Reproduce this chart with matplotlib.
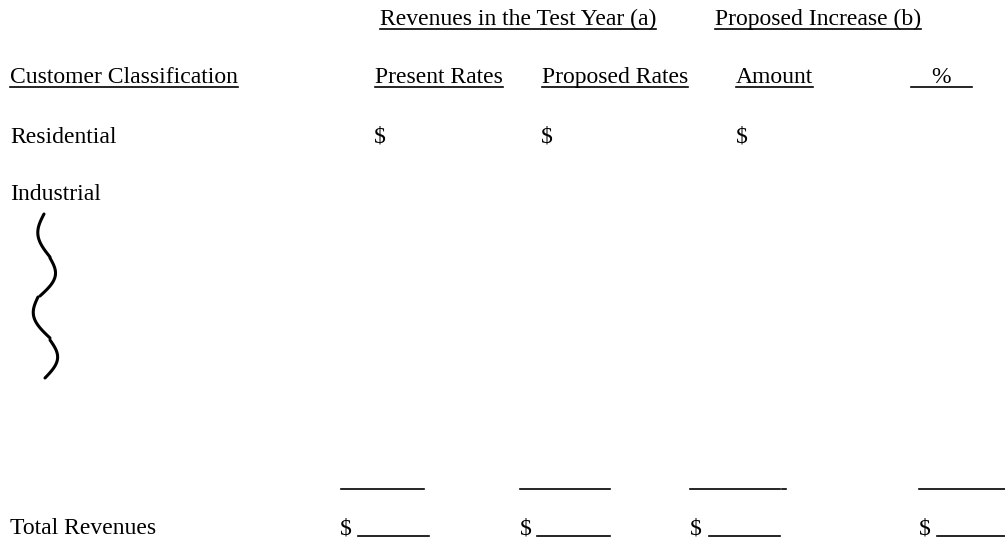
import matplotlib.pyplot as plt
import numpy as np

plt.rcParams['font.family'] = ['Liberation Serif', 'DejaVu Serif']

# form text
group_headers = ["Revenues in the Test Year (a)", "Proposed Increase (b)"]
col_headers = ["Customer Classification", "Present Rates", "Proposed Rates", "Amount"]
pct_header = "%"
rows = ["Residential", "Industrial"]
total_label = "Total Revenues"

# layout (pixel positions)
group_x = [380, 715]
col_x = [10, 375, 542, 736]
pct_span = (911, 972)
row_y = [143, 200]
dollar_x = [374, 541, 736]
total_x = [340, 520, 690, 919]
total_upper = [(341, 424), (520, 610), (690, 780), (919, 1005)]
total_lower = [(358, 429), (537, 610), (709, 780), (937, 1005)]

W, H = 1005, 539
fs = 17
fig = plt.figure(figsize=(W / 100, H / 100), dpi=100)
ax = fig.add_axes([0, 0, 1, 1])
ax.set_xlim(0, W)
ax.set_ylim(H, 0)
ax.axis('off')

underlined = []
for s, x in zip(group_headers, group_x):
    underlined.append(ax.text(x, 25, s, fontsize=fs, va='baseline'))
for s, x in zip(col_headers, col_x):
    underlined.append(ax.text(x, 83, s, fontsize=fs, va='baseline'))
ax.text(sum(pct_span) / 2, 83, pct_header, fontsize=fs, va='baseline', ha='center')
ax.plot(pct_span, [87, 87], color='black', lw=1.2)

for s, y in zip(rows, row_y):
    ax.text(10, y, s, fontsize=fs, va='baseline')
for x in dollar_x:
    ax.text(x, row_y[0], "$", fontsize=fs, va='baseline')

# wavy brace under Industrial
segs = [(214, 257, 44, 50, -9), (258, 296, 50, 40, 10),
        (297, 338, 38, 50, -10), (340, 378, 50, 45, 10)]
for y0, y1, xa, xb, d in segs:
    t = np.linspace(0, 1, 40)
    ys = y0 + (y1 - y0) * t
    xs = xa + (xb - xa) * t + d * np.sin(np.pi * t)
    ax.plot(xs, ys, color='black', lw=2.2, solid_capstyle='round')

# totals
ax.text(10, 534, total_label, fontsize=fs, va='baseline')
for x in total_x:
    ax.text(x, 534, "$", fontsize=fs, va='baseline')
for a, b in total_upper:
    ax.plot([a, b], [489, 489], color='black', lw=1.2)
ax.plot([782, 786], [489, 489], color='black', lw=1.2)
for a, b in total_lower:
    ax.plot([a, b], [536, 536], color='black', lw=1.2)

fig.canvas.draw()
inv = ax.transData.inverted()
for t in underlined:
    bb = t.get_window_extent()
    (x0, _), (x1, _) = inv.transform([[bb.x0, bb.y0], [bb.x1, bb.y1]])
    yb = t.get_position()[1] + 4
    ax.plot([x0, x1], [yb, yb], color='black', lw=1.2)

fig.savefig('out.png', dpi=100, facecolor='white')
